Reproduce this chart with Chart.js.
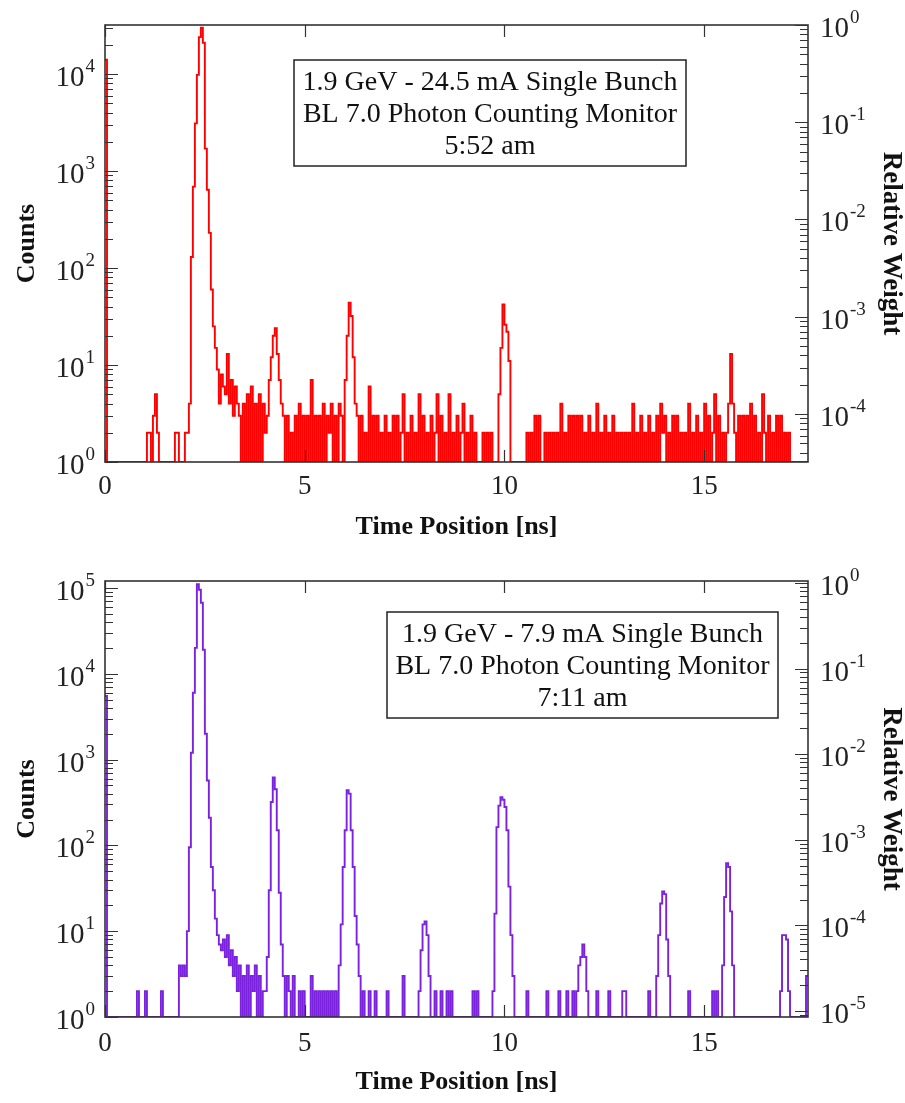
<!DOCTYPE html>
<html>
<head>
<meta charset="utf-8">
<script src="https://cdn.jsdelivr.net/npm/chart.js@4.4.1/dist/chart.umd.min.js"></script>
<style>
  html, body { margin: 0; padding: 0; background: #fff; }
  #wrapA { position: absolute; left: 0; top: 0; width: 905px; height: 550px; }
  #wrapB { position: absolute; left: 0; top: 550px; width: 905px; height: 553px; }
</style>
</head>
<body>
<div id="wrapA"><canvas id="chartA"></canvas></div>
<div id="wrapB"><canvas id="chartB"></canvas></div>
<script>
// histogram bins, 0.05 ns wide, one row per ns
const binWidth = 0.05;
const xTicks = [0, 5, 10, 15];

// 1.9 GeV - 24.5 mA, 5:52 am
const countsA = [
  14000,1,1,1,1,1,1,1,1,1,1,1,1,1,1,1,1,1,1,1,
  1,2,2,1,3,5,2,1,1,1,1,1,1,1,1,2,2,1,1,1,
  2,2,4,130,690,3100,9800,24000,30000,21000,1700,640,230,60,25,15,9,4,8,6,
  5,13,4,7,3,6,4,3,1,4,1,5,1,6,1,4,1,5,1,4,
  2,3,7,12,20,24,13,7,4,3,1,3,1,2,1,3,1,4,1,3,
  1,3,1,7,1,3,1,3,1,4,1,3,2,4,1,3,1,4,3,1,
  7,20,44,32,12,4,3,1,3,1,2,1,6,1,3,1,3,1,2,1,
  3,1,2,1,3,1,3,1,2,5,1,2,1,3,1,2,1,5,1,3,
  1,2,1,3,1,2,5,1,3,1,2,1,5,1,2,1,3,1,2,4,
  1,2,1,3,1,2,1,1,1,2,1,2,1,2,1,1,1,5,15,42,
  26,22,11,1,1,1,1,1,1,1,1,2,1,2,1,3,1,3,1,1,
  2,1,2,1,2,1,2,1,4,1,2,1,3,1,3,1,3,1,3,1,
  2,1,3,1,2,1,4,1,2,1,3,1,2,1,3,1,2,1,2,1,
  2,1,2,1,4,1,2,1,3,1,2,1,3,1,2,1,3,1,4,2,
  3,1,2,1,3,1,3,1,2,1,2,1,4,1,2,1,3,1,2,1,
  4,1,3,1,2,5,1,3,1,2,1,2,4,13,4,2,1,3,1,3,
  1,3,1,4,1,3,1,2,1,5,2,1,3,1,2,1,3,1,3,1,
  2,1,2,1,1,1,1,1,1,1,1,1,1
];

// 1.9 GeV - 7.9 mA, 7:11 am
const countsB = [
  5500,1,1,1,1,1,1,1,1,1,1,1,1,1,1,1,2,1,1,1,
  2,1,1,1,1,1,1,1,2,1,1,1,1,1,1,1,1,4,3,4,
  3,10,95,1200,6000,20000,110000,95000,67000,19000,2000,570,210,56,30,14,9,7,6,8,
  5,9,4,6,3,5,2,4,1,3,1,4,1,3,2,4,1,3,1,2,
  2,5,30,320,620,450,150,28,7,3,1,3,2,1,3,1,1,2,1,2,
  1,1,1,3,1,2,1,2,1,2,1,2,1,2,1,2,1,4,12,56,
  150,440,400,150,56,15,7,3,1,2,1,1,2,1,1,2,1,1,1,1,
  1,2,1,1,1,1,1,1,1,3,1,1,1,1,1,1,1,2,6,12,
  13,9,3,1,1,2,1,1,2,1,1,2,1,2,1,1,1,1,1,1,
  1,1,1,1,2,1,2,1,1,1,1,1,1,1,2,16,163,290,365,340,
  280,150,33,9,3,1,1,1,1,1,1,2,1,1,1,1,1,1,1,1,
  1,2,1,1,1,1,1,2,1,1,1,2,1,1,2,1,2,4,5,7,
  5,2,1,1,1,1,2,1,1,1,1,1,2,1,1,1,1,1,1,2,
  2,1,1,1,1,1,1,1,1,1,1,1,2,1,1,1,3,9,21,29,
  27,8,3,1,1,1,1,1,1,1,1,1,2,1,1,1,1,1,1,1,
  1,1,1,1,2,1,2,1,1,4,25,62,56,17,4,1,1,1,1,1,
  1,1,1,1,1,1,1,1,1,1,1,1,1,1,1,1,1,1,2,9,
  9,8,2,1,1,1,1,1,1,1,1,3,3
];

const noteA = ['1.9 GeV - 24.5 mA Single Bunch', 'BL 7.0 Photon Counting Monitor', '5:52 am'];
const noteB = ['1.9 GeV - 7.9 mA Single Bunch', 'BL 7.0 Photon Counting Monitor', '7:11 am'];

const SERIF = '"Liberation Serif", "Times New Roman", serif';

function drawPow(ctx, e, x, y, align) {
  const base = '10', sup = String(e);
  ctx.font = '29px ' + SERIF;
  const w1 = ctx.measureText(base).width;
  ctx.font = '19px ' + SERIF;
  const w2 = ctx.measureText(sup).width;
  const x0 = align === 'right' ? x - w1 - w2 - 1 : x;
  ctx.textAlign = 'left';
  ctx.textBaseline = 'alphabetic';
  ctx.font = '29px ' + SERIF;
  ctx.fillText(base, x0, y + 12);
  ctx.font = '19px ' + SERIF;
  ctx.fillText(sup, x0 + w1 + 1, y - 2);
}

function logTicks(ctx, s, x, dir) {
  const lo = Math.floor(Math.log10(s.min)), hi = Math.ceil(Math.log10(s.max));
  for (let e = lo; e <= hi; e++) {
    for (let m = 1; m <= 9; m++) {
      const v = m * Math.pow(10, e);
      if (v < s.min * 0.999 || v > s.max * 1.001) continue;
      const py = Math.round(s.getPixelForValue(v)) + 0.5;
      ctx.moveTo(x, py);
      ctx.lineTo(x + dir * (m === 1 ? 13 : 8), py);
    }
  }
}

const hepFrame = {
  id: 'hepFrame',
  afterDraw(chart, args, opts) {
    const {ctx, chartArea: a, scales} = chart;
    ctx.save();
    // frame
    ctx.strokeStyle = '#333';
    ctx.lineWidth = 1.6;
    ctx.strokeRect(a.left, a.top, a.right - a.left, a.bottom - a.top);

    // inward ticks
    ctx.lineWidth = 1.2;
    ctx.beginPath();
    xTicks.forEach(v => {
      const px = Math.round(scales.x.getPixelForValue(v)) + 0.5;
      ctx.moveTo(px, a.top); ctx.lineTo(px, a.top + 12);
      ctx.moveTo(px, a.bottom); ctx.lineTo(px, a.bottom - 12);
    });
    logTicks(ctx, scales.y, a.left, 1);
    logTicks(ctx, scales.y2, a.right, -1);
    ctx.stroke();

    // decade labels 10^n
    ctx.fillStyle = '#222';
    [['y', a.left - 10, 'right'], ['y2', a.right + 12, 'left']].forEach(([id, x, align]) => {
      const s = scales[id];
      const lo = Math.ceil(Math.log10(s.min) - 1e-6), hi = Math.floor(Math.log10(s.max) + 1e-6);
      for (let e = lo; e <= hi; e++) {
        drawPow(ctx, e, x, s.getPixelForValue(Math.pow(10, e)), align);
      }
    });

    // note box
    const [bx, by, bw, bh] = opts.box;
    ctx.fillStyle = '#fff';
    ctx.fillRect(bx, by, bw, bh);
    ctx.strokeStyle = '#222';
    ctx.lineWidth = 1.5;
    ctx.strokeRect(bx, by, bw, bh);
    ctx.fillStyle = '#111';
    ctx.font = '28px ' + SERIF;
    ctx.textAlign = 'center';
    ctx.textBaseline = 'alphabetic';
    opts.lines.forEach((t, i) => ctx.fillText(t, bx + bw / 2, by + 30 + i * 32));
    ctx.restore();
  }
};

function makeChart(id, counts, color, cfg) {
  return new Chart(document.getElementById(id), {
    type: 'line',
    data: {
      datasets: [{
        data: counts.map((v, i) => ({x: i * binWidth, y: v})),
        borderColor: color,
        borderWidth: 1.9,
        pointRadius: 0,
        stepped: true,
        fill: false,
        yAxisID: 'y'
      }]
    },
    options: {
      animation: false,
      responsive: true,
      maintainAspectRatio: false,
      layout: { padding: { top: cfg.top, left: 0, right: 0, bottom: 0 } },
      plugins: {
        legend: { display: false },
        tooltip: { enabled: false },
        hepFrame: { box: cfg.box, lines: cfg.lines }
      },
      scales: {
        x: {
          type: 'linear',
          position: 'bottom',
          min: 0,
          max: 17.6,
          grid: { display: false, drawTicks: false },
          border: { display: false },
          ticks: {
            stepSize: 5,
            includeBounds: false,
            padding: cfg.xPad,
            color: '#222',
            font: { family: SERIF, size: 27 },
            maxRotation: 0
          },
          title: {
            display: true,
            text: 'Time Position [ns]',
            color: '#111',
            font: { family: SERIF, size: 26, weight: 'bold', lineHeight: 1 },
            padding: { top: 0, bottom: cfg.xTitlePad }
          },
          afterFit: s => { s.height = cfg.xH; }
        },
        y: {
          type: 'logarithmic',
          position: 'left',
          min: 1,
          max: cfg.yMax,
          grid: { display: false, drawTicks: false },
          border: { display: false },
          ticks: { display: false },
          title: {
            display: true,
            text: 'Counts',
            color: '#111',
            font: { family: SERIF, size: 26, weight: 'bold', lineHeight: 1 },
            padding: { top: 14, bottom: 0 }
          },
          afterFit: s => { s.width = 105; }
        },
        y2: {
          type: 'logarithmic',
          position: 'right',
          min: cfg.wMin,
          max: cfg.wMax,
          grid: { display: false, drawTicks: false },
          border: { display: false },
          ticks: { display: false },
          title: {
            display: true,
            text: 'Relative Weight',
            color: '#111',
            font: { family: SERIF, size: 27, weight: 'bold', lineHeight: 1 },
            padding: { top: 1, bottom: 0 }
          },
          afterFit: s => { s.width = 97; }
        }
      }
    },
    plugins: [hepFrame]
  });
}

makeChart('chartA', countsA, '#ff0000', {
  top: 25, xH: 88, xPad: 9, xTitlePad: 10,
  yMax: Math.pow(10, 4.505), wMin: Math.pow(10, -4.494), wMax: 1,
  box: [294, 60, 392, 106], lines: noteA
});

makeChart('chartB', countsB, '#7a22dd', {
  top: 31, xH: 86, xPad: 11, xTitlePad: 8,
  yMax: Math.pow(10, 5.08), wMin: Math.pow(10, -5.07), wMax: Math.pow(10, 0.023),
  box: [387, 62, 391, 106], lines: noteB
});
</script>
</body>
</html>
